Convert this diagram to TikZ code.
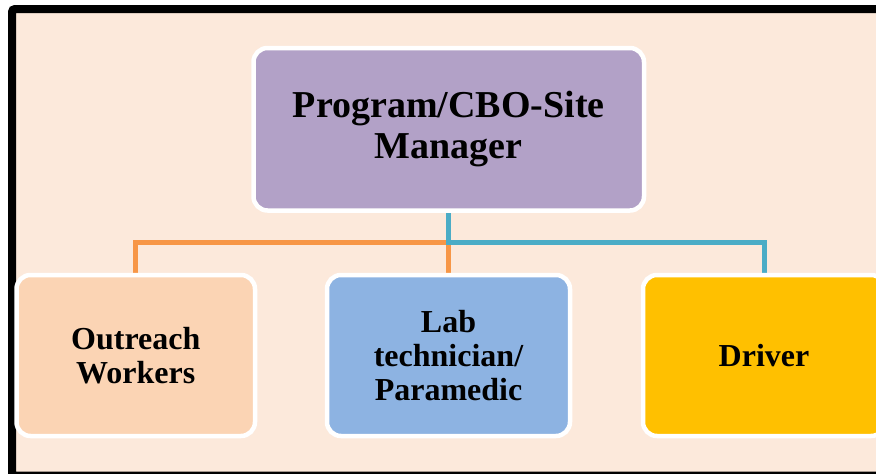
\documentclass[tikz,border=0pt]{standalone}
\usepackage{fontspec}
\setmainfont{Liberation Serif}
\usetikzlibrary{backgrounds}
\definecolor{bgpeach}{HTML}{FCE9DB}
\definecolor{boxpurple}{HTML}{B2A1C7}
\definecolor{boxpeach}{HTML}{FBD4B4}
\definecolor{boxblue}{HTML}{8DB3E2}
\definecolor{boxgold}{HTML}{FFC000}
\definecolor{lineorange}{HTML}{F79646}
\definecolor{lineteal}{HTML}{4BACC6}
\tikzset{
  orgbox/.style={draw=white, line width=4.5pt, rounded corners=14pt, align=center,
    font=\bfseries\fontsize{32}{34}\selectfont, inner sep=0pt},
  conn/.style={line width=5pt}
}
\begin{document}
\begin{tikzpicture}[x=1pt,y=-1pt]
\useasboundingbox (0,0) rectangle (876,474);
\clip (0,0) rectangle (876,474);
\node[orgbox, fill=boxpurple, minimum width=390.5pt, minimum height=162.5pt,
  font=\bfseries\fontsize{38}{41}\selectfont] (top) at (448.75,129.25) {Program/CBO-Site\\Manager};
\node[orgbox, fill=boxpeach, minimum width=238.5pt, minimum height=161pt] (left) at (135.75,355.5) {Outreach\\Workers};
\node[orgbox, fill=boxblue, minimum width=243pt, minimum height=161pt] (mid) at (448.5,355.5) {Lab\\technician/\\Paramedic};
\node[orgbox, fill=boxgold, minimum width=242pt, minimum height=161pt] (right) at (764,355.5) {Driver};
\coordinate (bus) at (0,242.5);
\begin{scope}[on background layer]
  \draw[line width=8pt, fill=bgpeach, rounded corners=3pt] (12,9) rectangle (895,475.5);
  \draw[conn, lineorange] (left.north) |- (mid.north |- bus) -- (mid.north);
  \draw[conn, lineteal] (top.south) |- (right.north |- bus) -- (right.north);
\end{scope}
\end{tikzpicture}
\end{document}
